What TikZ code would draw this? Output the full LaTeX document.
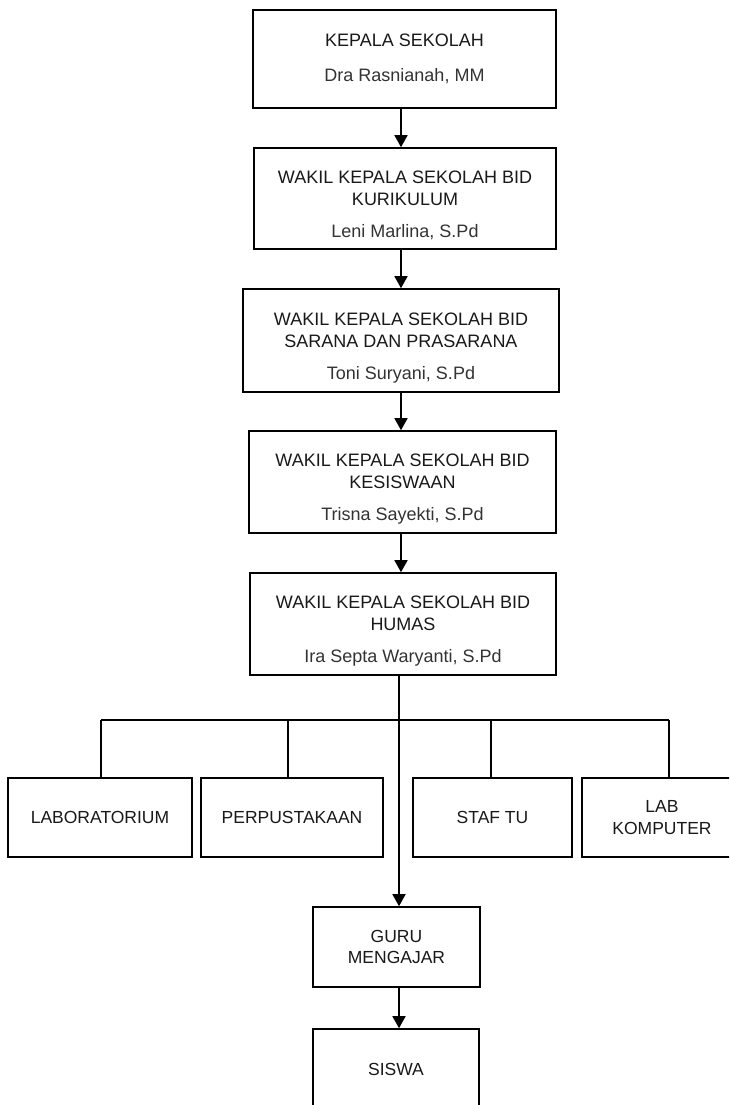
\documentclass[tikz,border=0pt]{standalone}
\usepackage{fontspec}
\setmainfont{Liberation Sans}
\usetikzlibrary{arrows.meta}
\definecolor{nametext}{HTML}{333333}
\begin{document}
\begin{tikzpicture}[x=1pt,y=-1pt,
  box/.style={draw=black, line width=1.6pt, rectangle, inner sep=0pt, align=center,
    font=\fontsize{17.5}{21.5}\selectfont, text=black!90},
  topbox/.style={box, font=\fontsize{18}{22}\selectfont},
  conn/.style={line width=1.6pt, draw=black},
  arr/.style={conn, -{Triangle[length=12pt,width=13pt]}}]
\useasboundingbox (0,0) rectangle (729,1105);
\clip (0,0) rectangle (729,1105);
\fill[white] (0,0) rectangle (729,1105);
\newcommand{\nm}[1]{\\[10pt]{\color{nametext}#1}}
\newcommand{\dn}{\rule{0pt}{27pt}}
\node[topbox, minimum width=303pt, minimum height=98pt] (k1) at (404.5,59)
  {KEPALA SEKOLAH\\[13pt]{\color{nametext}Dra Rasnianah, MM}};
\node[topbox, minimum width=302pt, minimum height=101pt] (k2) at (405,198.5)
  {\dn WAKIL KEPALA SEKOLAH BID\\KURIKULUM\nm{Leni Marlina, S.Pd}};
\node[topbox, minimum width=316pt, minimum height=103pt] (k3) at (401,340.5)
  {\dn WAKIL KEPALA SEKOLAH BID\\SARANA DAN PRASARANA\nm{Toni Suryani, S.Pd}};
\node[topbox, minimum width=307pt, minimum height=102pt] (k4) at (402.5,482)
  {\dn WAKIL KEPALA SEKOLAH BID\\KESISWAAN\nm{Trisna Sayekti, S.Pd}};
\node[topbox, minimum width=306pt, minimum height=102pt] (k5) at (403,624)
  {\dn WAKIL KEPALA SEKOLAH BID\\HUMAS\nm{Ira Septa Waryanti, S.Pd}};
\node[box, minimum width=184pt, minimum height=79pt] (lab) at (100,817.5) {LABORATORIUM};
\node[box, minimum width=182pt, minimum height=79pt] (perp) at (292,817.5) {PERPUSTAKAAN};
\node[box, minimum width=159pt, minimum height=79pt] (staf) at (492.5,817.5) {STAF TU};
\node[box, minimum width=160pt, minimum height=79pt] (labk) at (662,817.5) {LAB\\KOMPUTER};
\node[box, minimum width=167pt, minimum height=80pt] (guru) at (396.5,947) {GURU\\MENGAJAR};
\node[box, minimum width=166pt, minimum height=81pt] (siswa) at (396,1069.5) {SISWA};
\coordinate (t) at (401,0);
\coordinate (t2) at (399,0);
\coordinate (bL) at (101,720);
\coordinate (bR) at (669,720);
\coordinate (c2) at (288,720);
\coordinate (c3) at (491,720);
\draw[arr] (k1.south -| t) -- (k2.north -| t);
\draw[arr] (k2.south -| t) -- (k3.north -| t);
\draw[arr] (k3.south -| t) -- (k4.north -| t);
\draw[arr] (k4.south -| t) -- (k5.north -| t);
\draw[arr] (k5.south -| t2) -- (guru.north -| t2);
\draw[arr] (guru.south -| t2) -- (siswa.north -| t2);
\draw[conn] (bL) -- (bR);
\draw[conn] (bL) -- (bL |- lab.north);
\draw[conn] (c2) -- (c2 |- perp.north);
\draw[conn] (c3) -- (c3 |- staf.north);
\draw[conn] (bR) -- (bR |- labk.north);
\end{tikzpicture}
\end{document}
